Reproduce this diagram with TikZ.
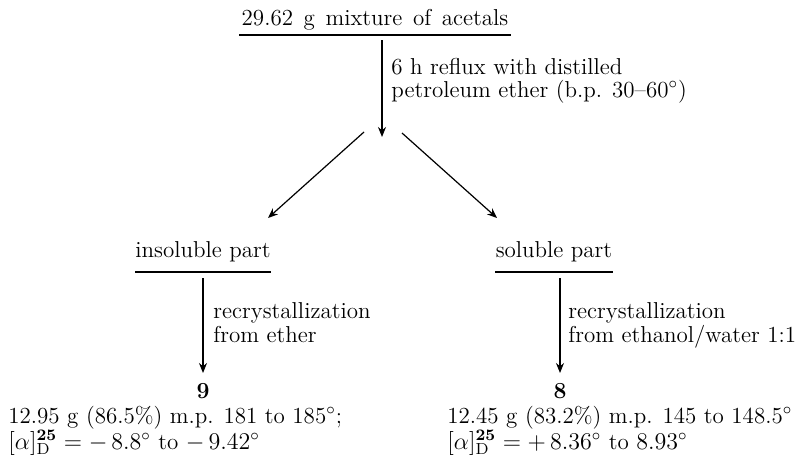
\documentclass[tikz,border=0pt]{standalone}
\usetikzlibrary{arrows.meta}
\begin{document}
\begin{tikzpicture}[x=0.5pt,y=-0.5pt,
  txt/.style={inner sep=0pt,font=\fontsize{11.5}{12}\selectfont},
  lbl/.style={txt,align=left,anchor=base west},
  flow/.style={line width=0.6pt,-{Stealth[length=5pt,width=4pt]}},
  uline/.style={line width=0.8pt}]
\useasboundingbox (0,0) rectangle (797,461);
% top
\node[txt,anchor=base] (top) at (375,25) {29.62\hspace{5.3pt}g\hspace{5.3pt}mixture\hspace{5.3pt}of\hspace{5.3pt}acetals};
\draw[uline] (239,35) -- (511,35);
\coordinate (topout) at (382,40);
\coordinate (split) at (382,137);
\draw[flow] (topout) -- (split);
\node[lbl] (reflux) at (391,74) {6 h reflux with distilled};
\node[lbl] (reflux2) at (391,97) {petroleum ether (b.p. 30--60$^\circ$)};
% diagonals
\coordinate (dl) at (364,132);
\coordinate (dr) at (402,133);
\node[txt,anchor=base] (insol) at (203,257) {insoluble part};
\node[txt,anchor=base] (sol) at (554,257) {soluble part};
\coordinate (insolin) at (268,218);
\coordinate (solin) at (497,218);
\draw[flow] (dl) -- (insolin);
\draw[flow] (dr) -- (solin);
\draw[uline] (135,272) -- (271,272);
\draw[uline] (495,272) -- (613,272);
% left branch
\coordinate (insolout) at (203,278);
\node[txt,anchor=base,font=\fontsize{11.5}{12}\bfseries] (nine) at (203,398) {9};
\coordinate (ninein) at (203,373);
\draw[flow] (insolout) -- (ninein);
\node[lbl] (rl1) at (213,318) {recrystallization};
\node[lbl] (rl2) at (213,342) {from ether};
\node[lbl] (dl1) at (8,423) {12.95 g (86.5\%) m.p. 181 to 185$^\circ$;};
\node[lbl] (dl2) at (8,449) {$[\alpha]^{\mathbf{25}}_{\mathrm{D}} = -\,8.8^\circ$ to $-\,9.42^\circ$};
% right branch
\coordinate (solout) at (560,278);
\node[txt,anchor=base,font=\fontsize{11.5}{12}\bfseries] (eight) at (560,398) {8};
\coordinate (eightin) at (560,373);
\draw[flow] (solout) -- (eightin);
\node[lbl] (rr1) at (568,318) {recrystallization};
\node[lbl] (rr2) at (568,342) {from ethanol/water 1:1};
\node[lbl] (dr1) at (447,423) {12.45 g (83.2\%) m.p. 145 to 148.5$^\circ$};
\node[lbl] (dr2) at (447,449) {$[\alpha]^{\mathbf{25}}_{\mathrm{D}} = +\,8.36^\circ$ to $8.93^\circ$};
\end{tikzpicture}
\end{document}
